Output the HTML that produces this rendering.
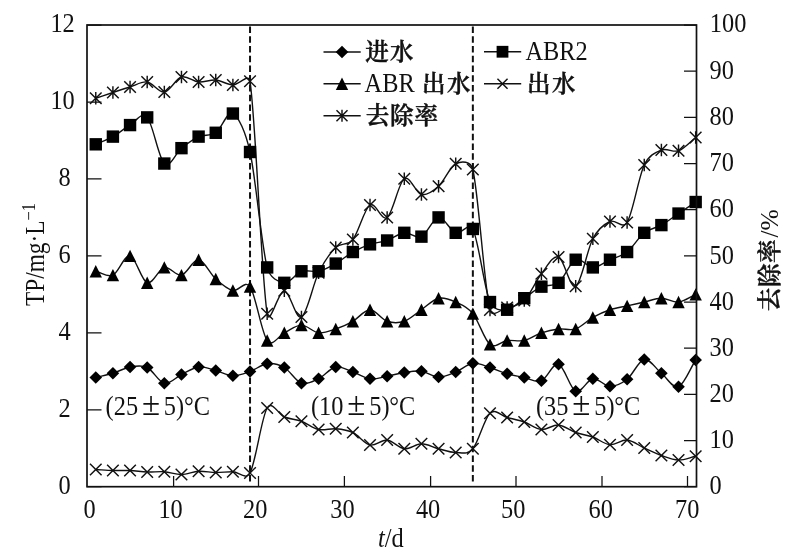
<!DOCTYPE html>
<html><head><meta charset="utf-8"><title>TP</title>
<style>html,body{margin:0;padding:0;background:#fff}svg{display:block}</style></head>
<body>
<svg width="800" height="560" viewBox="0 0 800 560">
<rect width="800" height="560" fill="#fff"/>
<path d="M173.60 486.70 V475.90 M258.50 486.70 V475.90 M344.40 486.70 V475.90 M430.60 486.70 V475.90 M516.00 486.70 V475.90 M602.00 486.70 V475.90 M687.50 486.70 V475.90 M87.00 486.70 H101.50 M87.00 409.76 H101.50 M87.00 332.82 H101.50 M87.00 255.88 H101.50 M87.00 178.94 H101.50 M87.00 102.00 H101.50 M87.00 25.06 H101.50 M696.50 486.70 H684.00 M696.50 440.53 H684.00 M696.50 394.36 H684.00 M696.50 348.19 H684.00 M696.50 302.02 H684.00 M696.50 255.85 H684.00 M696.50 209.68 H684.00 M696.50 163.51 H684.00 M696.50 117.34 H684.00 M696.50 71.17 H684.00 M696.50 25.00 H684.00" stroke="#111" stroke-width="1.25" fill="none"/>
<path d="M250.03 26.50 V483.00" stroke="#111" stroke-width="2" stroke-dasharray="6.5 3.25" fill="none"/>
<path d="M472.85 26.50 V483.00" stroke="#111" stroke-width="2" stroke-dasharray="6.5 3.25" fill="none"/>
<path d="M95.77 377.50 C101.48 376.08 107.20 375.00 112.91 373.25 C118.62 371.50 124.34 367.96 130.05 367.00 C135.76 366.04 141.48 364.79 147.19 367.50 C152.90 370.21 158.62 382.08 164.33 383.25 C170.04 384.42 175.76 377.21 181.47 374.50 C187.18 371.79 192.90 367.67 198.61 367.00 C204.32 366.33 210.04 369.04 215.75 370.50 C221.46 371.96 227.18 375.58 232.89 375.75 C238.60 375.92 244.32 373.50 250.03 371.50 C255.74 369.50 261.46 364.42 267.17 363.75 C272.88 363.08 278.60 364.25 284.31 367.50 C290.02 370.75 295.74 381.38 301.45 383.25 C307.16 385.12 312.88 381.46 318.59 378.75 C324.30 376.04 330.02 368.12 335.73 367.00 C341.44 365.88 347.16 370.04 352.87 372.00 C358.58 373.96 364.30 378.04 370.01 378.75 C375.72 379.46 381.44 377.29 387.15 376.25 C392.86 375.21 398.58 373.33 404.29 372.50 C410.00 371.67 415.72 370.50 421.43 371.25 C427.14 372.00 432.86 376.88 438.57 377.00 C444.28 377.12 450.00 374.29 455.71 372.00 C461.42 369.71 467.14 364.00 472.85 363.25 C478.56 362.50 484.28 365.75 489.99 367.50 C495.70 369.25 501.42 372.08 507.13 373.75 C512.84 375.42 518.56 376.33 524.27 377.50 C529.98 378.67 535.70 382.96 541.41 380.75 C547.12 378.54 552.84 362.50 558.55 364.25 C564.26 366.00 569.98 388.83 575.69 391.25 C581.40 393.67 587.12 379.58 592.83 378.75 C598.54 377.92 604.26 386.17 609.97 386.25 C615.68 386.33 621.40 383.71 627.11 379.25 C632.82 374.79 638.54 360.50 644.25 359.50 C649.96 358.50 655.68 368.71 661.39 373.25 C667.10 377.79 672.82 388.96 678.53 386.75 C684.24 384.54 689.96 368.92 695.67 360.00" fill="none" stroke="#111" stroke-width="1.40"/>
<path d="M95.77 371.20 L102.07 377.50 L95.77 383.80 L89.47 377.50Z" fill="#000"/><path d="M112.91 366.95 L119.21 373.25 L112.91 379.55 L106.61 373.25Z" fill="#000"/><path d="M130.05 360.70 L136.35 367.00 L130.05 373.30 L123.75 367.00Z" fill="#000"/><path d="M147.19 361.20 L153.49 367.50 L147.19 373.80 L140.89 367.50Z" fill="#000"/><path d="M164.33 376.95 L170.63 383.25 L164.33 389.55 L158.03 383.25Z" fill="#000"/><path d="M181.47 368.20 L187.77 374.50 L181.47 380.80 L175.17 374.50Z" fill="#000"/><path d="M198.61 360.70 L204.91 367.00 L198.61 373.30 L192.31 367.00Z" fill="#000"/><path d="M215.75 364.20 L222.05 370.50 L215.75 376.80 L209.45 370.50Z" fill="#000"/><path d="M232.89 369.45 L239.19 375.75 L232.89 382.05 L226.59 375.75Z" fill="#000"/><path d="M250.03 365.20 L256.33 371.50 L250.03 377.80 L243.73 371.50Z" fill="#000"/><path d="M267.17 357.45 L273.47 363.75 L267.17 370.05 L260.87 363.75Z" fill="#000"/><path d="M284.31 361.20 L290.61 367.50 L284.31 373.80 L278.01 367.50Z" fill="#000"/><path d="M301.45 376.95 L307.75 383.25 L301.45 389.55 L295.15 383.25Z" fill="#000"/><path d="M318.59 372.45 L324.89 378.75 L318.59 385.05 L312.29 378.75Z" fill="#000"/><path d="M335.73 360.70 L342.03 367.00 L335.73 373.30 L329.43 367.00Z" fill="#000"/><path d="M352.87 365.70 L359.17 372.00 L352.87 378.30 L346.57 372.00Z" fill="#000"/><path d="M370.01 372.45 L376.31 378.75 L370.01 385.05 L363.71 378.75Z" fill="#000"/><path d="M387.15 369.95 L393.45 376.25 L387.15 382.55 L380.85 376.25Z" fill="#000"/><path d="M404.29 366.20 L410.59 372.50 L404.29 378.80 L397.99 372.50Z" fill="#000"/><path d="M421.43 364.95 L427.73 371.25 L421.43 377.55 L415.13 371.25Z" fill="#000"/><path d="M438.57 370.70 L444.87 377.00 L438.57 383.30 L432.27 377.00Z" fill="#000"/><path d="M455.71 365.70 L462.01 372.00 L455.71 378.30 L449.41 372.00Z" fill="#000"/><path d="M472.85 356.95 L479.15 363.25 L472.85 369.55 L466.55 363.25Z" fill="#000"/><path d="M489.99 361.20 L496.29 367.50 L489.99 373.80 L483.69 367.50Z" fill="#000"/><path d="M507.13 367.45 L513.43 373.75 L507.13 380.05 L500.83 373.75Z" fill="#000"/><path d="M524.27 371.20 L530.57 377.50 L524.27 383.80 L517.97 377.50Z" fill="#000"/><path d="M541.41 374.45 L547.71 380.75 L541.41 387.05 L535.11 380.75Z" fill="#000"/><path d="M558.55 357.95 L564.85 364.25 L558.55 370.55 L552.25 364.25Z" fill="#000"/><path d="M575.69 384.95 L581.99 391.25 L575.69 397.55 L569.39 391.25Z" fill="#000"/><path d="M592.83 372.45 L599.13 378.75 L592.83 385.05 L586.53 378.75Z" fill="#000"/><path d="M609.97 379.95 L616.27 386.25 L609.97 392.55 L603.67 386.25Z" fill="#000"/><path d="M627.11 372.95 L633.41 379.25 L627.11 385.55 L620.81 379.25Z" fill="#000"/><path d="M644.25 353.20 L650.55 359.50 L644.25 365.80 L637.95 359.50Z" fill="#000"/><path d="M661.39 366.95 L667.69 373.25 L661.39 379.55 L655.09 373.25Z" fill="#000"/><path d="M678.53 380.45 L684.83 386.75 L678.53 393.05 L672.23 386.75Z" fill="#000"/><path d="M695.67 353.70 L701.97 360.00 L695.67 366.30 L689.37 360.00Z" fill="#000"/>
<path d="M95.77 271.27 C101.48 272.55 107.20 277.68 112.91 275.12 C118.62 272.55 124.34 254.60 130.05 255.88 C135.76 257.16 141.48 280.89 147.19 282.81 C152.90 284.73 158.62 268.70 164.33 267.42 C170.04 266.14 175.76 276.40 181.47 275.12 C187.18 273.83 192.90 259.09 198.61 259.73 C204.32 260.37 210.04 273.83 215.75 278.96 C221.46 284.09 227.18 289.22 232.89 290.50 C238.60 291.79 245.06 279.41 250.03 286.66 C255.74 294.99 261.46 332.82 267.17 340.51 C272.77 348.06 278.60 335.38 284.31 332.82 C290.02 330.26 295.74 325.13 301.45 325.13 C307.16 325.13 312.88 332.18 318.59 332.82 C324.30 333.46 330.02 330.90 335.73 328.97 C341.44 327.05 347.16 324.48 352.87 321.28 C358.58 318.07 364.30 309.74 370.01 309.74 C375.72 309.74 381.44 319.36 387.15 321.28 C392.86 323.20 398.58 323.20 404.29 321.28 C410.00 319.36 415.72 313.58 421.43 309.74 C427.14 305.89 432.86 299.48 438.57 298.20 C444.28 296.91 450.00 299.48 455.71 302.04 C461.42 304.61 467.14 306.53 472.85 313.58 C478.56 320.64 484.28 339.87 489.99 344.36 C495.70 348.85 501.42 341.16 507.13 340.51 C512.84 339.87 518.56 341.80 524.27 340.51 C529.98 339.23 535.70 334.74 541.41 332.82 C547.12 330.90 552.84 329.61 558.55 328.97 C564.26 328.33 569.98 330.90 575.69 328.97 C581.40 327.05 587.12 320.64 592.83 317.43 C598.54 314.23 604.26 311.66 609.97 309.74 C615.68 307.81 621.40 307.17 627.11 305.89 C632.82 304.61 638.54 303.33 644.25 302.04 C649.96 300.76 655.68 298.20 661.39 298.20 C667.10 298.20 672.82 302.69 678.53 302.04 C684.24 301.40 689.96 296.91 695.67 294.35" fill="none" stroke="#111" stroke-width="1.40"/>
<path d="M95.77 265.07 L101.97 277.47 L89.57 277.47Z" fill="#000"/><path d="M112.91 268.92 L119.11 281.31 L106.71 281.31Z" fill="#000"/><path d="M130.05 249.68 L136.25 262.08 L123.85 262.08Z" fill="#000"/><path d="M147.19 276.61 L153.39 289.01 L140.99 289.01Z" fill="#000"/><path d="M164.33 261.22 L170.53 273.62 L158.13 273.62Z" fill="#000"/><path d="M181.47 268.92 L187.67 281.31 L175.27 281.31Z" fill="#000"/><path d="M198.61 253.53 L204.81 265.93 L192.41 265.93Z" fill="#000"/><path d="M215.75 272.76 L221.95 285.16 L209.55 285.16Z" fill="#000"/><path d="M232.89 284.30 L239.09 296.70 L226.69 296.70Z" fill="#000"/><path d="M250.03 280.46 L256.23 292.86 L243.83 292.86Z" fill="#000"/><path d="M267.17 334.31 L273.37 346.71 L260.97 346.71Z" fill="#000"/><path d="M284.31 326.62 L290.51 339.02 L278.11 339.02Z" fill="#000"/><path d="M301.45 318.93 L307.65 331.33 L295.25 331.33Z" fill="#000"/><path d="M318.59 326.62 L324.79 339.02 L312.39 339.02Z" fill="#000"/><path d="M335.73 322.77 L341.93 335.17 L329.53 335.17Z" fill="#000"/><path d="M352.87 315.08 L359.07 327.48 L346.67 327.48Z" fill="#000"/><path d="M370.01 303.54 L376.21 315.94 L363.81 315.94Z" fill="#000"/><path d="M387.15 315.08 L393.35 327.48 L380.95 327.48Z" fill="#000"/><path d="M404.29 315.08 L410.49 327.48 L398.09 327.48Z" fill="#000"/><path d="M421.43 303.54 L427.63 315.94 L415.23 315.94Z" fill="#000"/><path d="M438.57 292.00 L444.77 304.40 L432.37 304.40Z" fill="#000"/><path d="M455.71 295.84 L461.91 308.24 L449.51 308.24Z" fill="#000"/><path d="M472.85 307.38 L479.05 319.78 L466.65 319.78Z" fill="#000"/><path d="M489.99 338.16 L496.19 350.56 L483.79 350.56Z" fill="#000"/><path d="M507.13 334.31 L513.33 346.71 L500.93 346.71Z" fill="#000"/><path d="M524.27 334.31 L530.47 346.71 L518.07 346.71Z" fill="#000"/><path d="M541.41 326.62 L547.61 339.02 L535.21 339.02Z" fill="#000"/><path d="M558.55 322.77 L564.75 335.17 L552.35 335.17Z" fill="#000"/><path d="M575.69 322.77 L581.89 335.17 L569.49 335.17Z" fill="#000"/><path d="M592.83 311.23 L599.03 323.63 L586.63 323.63Z" fill="#000"/><path d="M609.97 303.54 L616.17 315.94 L603.77 315.94Z" fill="#000"/><path d="M627.11 299.69 L633.31 312.09 L620.91 312.09Z" fill="#000"/><path d="M644.25 295.84 L650.45 308.24 L638.05 308.24Z" fill="#000"/><path d="M661.39 292.00 L667.59 304.40 L655.19 304.40Z" fill="#000"/><path d="M678.53 295.84 L684.73 308.24 L672.33 308.24Z" fill="#000"/><path d="M695.67 288.15 L701.87 300.55 L689.47 300.55Z" fill="#000"/>
<path d="M95.77 469.50 C101.48 469.83 107.20 470.33 112.91 470.50 C118.62 470.67 124.34 470.25 130.05 470.50 C135.76 470.75 141.48 471.79 147.19 472.00 C152.90 472.21 158.62 471.33 164.33 471.75 C170.04 472.17 175.76 474.58 181.47 474.50 C187.18 474.42 192.90 471.58 198.61 471.25 C204.32 470.92 210.04 472.42 215.75 472.50 C221.46 472.58 227.18 471.67 232.89 471.75 C238.60 471.83 245.96 480.57 250.03 473.00 C255.74 462.38 261.46 417.33 267.17 408.00 C272.22 399.74 278.60 414.79 284.31 417.00 C290.02 419.21 295.74 419.17 301.45 421.25 C307.16 423.33 312.88 428.25 318.59 429.50 C324.30 430.75 330.02 428.25 335.73 428.75 C341.44 429.25 347.16 429.79 352.87 432.50 C358.58 435.21 364.30 443.75 370.01 445.00 C375.72 446.25 381.44 439.38 387.15 440.00 C392.86 440.62 398.58 448.12 404.29 448.75 C410.00 449.38 415.72 443.75 421.43 443.75 C427.14 443.75 432.86 447.29 438.57 448.75 C444.28 450.21 450.00 452.50 455.71 452.50 C461.42 452.50 467.14 455.29 472.85 448.75 C478.56 442.21 484.28 418.46 489.99 413.25 C495.70 408.04 501.42 416.04 507.13 417.50 C512.84 418.96 518.56 420.00 524.27 422.00 C529.98 424.00 535.70 429.00 541.41 429.50 C547.12 430.00 552.84 424.50 558.55 425.00 C564.26 425.50 569.98 430.50 575.69 432.50 C581.40 434.50 587.12 434.96 592.83 437.00 C598.54 439.04 604.26 444.25 609.97 444.75 C615.68 445.25 621.40 439.46 627.11 440.00 C632.82 440.54 638.54 445.42 644.25 448.00 C649.96 450.58 655.68 453.50 661.39 455.50 C667.10 457.50 672.82 459.88 678.53 460.00 C684.24 460.12 689.96 457.50 695.67 456.25" fill="none" stroke="#111" stroke-width="1.40"/>
<path d="M89.97 463.70 L101.57 475.30 M89.97 475.30 L101.57 463.70" stroke="#111" stroke-width="1.45" fill="none"/><path d="M107.11 464.70 L118.71 476.30 M107.11 476.30 L118.71 464.70" stroke="#111" stroke-width="1.45" fill="none"/><path d="M124.25 464.70 L135.85 476.30 M124.25 476.30 L135.85 464.70" stroke="#111" stroke-width="1.45" fill="none"/><path d="M141.39 466.20 L152.99 477.80 M141.39 477.80 L152.99 466.20" stroke="#111" stroke-width="1.45" fill="none"/><path d="M158.53 465.95 L170.13 477.55 M158.53 477.55 L170.13 465.95" stroke="#111" stroke-width="1.45" fill="none"/><path d="M175.67 468.70 L187.27 480.30 M175.67 480.30 L187.27 468.70" stroke="#111" stroke-width="1.45" fill="none"/><path d="M192.81 465.45 L204.41 477.05 M192.81 477.05 L204.41 465.45" stroke="#111" stroke-width="1.45" fill="none"/><path d="M209.95 466.70 L221.55 478.30 M209.95 478.30 L221.55 466.70" stroke="#111" stroke-width="1.45" fill="none"/><path d="M227.09 465.95 L238.69 477.55 M227.09 477.55 L238.69 465.95" stroke="#111" stroke-width="1.45" fill="none"/><path d="M244.23 467.20 L255.83 478.80 M244.23 478.80 L255.83 467.20" stroke="#111" stroke-width="1.45" fill="none"/><path d="M261.37 402.20 L272.97 413.80 M261.37 413.80 L272.97 402.20" stroke="#111" stroke-width="1.45" fill="none"/><path d="M278.51 411.20 L290.11 422.80 M278.51 422.80 L290.11 411.20" stroke="#111" stroke-width="1.45" fill="none"/><path d="M295.65 415.45 L307.25 427.05 M295.65 427.05 L307.25 415.45" stroke="#111" stroke-width="1.45" fill="none"/><path d="M312.79 423.70 L324.39 435.30 M312.79 435.30 L324.39 423.70" stroke="#111" stroke-width="1.45" fill="none"/><path d="M329.93 422.95 L341.53 434.55 M329.93 434.55 L341.53 422.95" stroke="#111" stroke-width="1.45" fill="none"/><path d="M347.07 426.70 L358.67 438.30 M347.07 438.30 L358.67 426.70" stroke="#111" stroke-width="1.45" fill="none"/><path d="M364.21 439.20 L375.81 450.80 M364.21 450.80 L375.81 439.20" stroke="#111" stroke-width="1.45" fill="none"/><path d="M381.35 434.20 L392.95 445.80 M381.35 445.80 L392.95 434.20" stroke="#111" stroke-width="1.45" fill="none"/><path d="M398.49 442.95 L410.09 454.55 M398.49 454.55 L410.09 442.95" stroke="#111" stroke-width="1.45" fill="none"/><path d="M415.63 437.95 L427.23 449.55 M415.63 449.55 L427.23 437.95" stroke="#111" stroke-width="1.45" fill="none"/><path d="M432.77 442.95 L444.37 454.55 M432.77 454.55 L444.37 442.95" stroke="#111" stroke-width="1.45" fill="none"/><path d="M449.91 446.70 L461.51 458.30 M449.91 458.30 L461.51 446.70" stroke="#111" stroke-width="1.45" fill="none"/><path d="M467.05 442.95 L478.65 454.55 M467.05 454.55 L478.65 442.95" stroke="#111" stroke-width="1.45" fill="none"/><path d="M484.19 407.45 L495.79 419.05 M484.19 419.05 L495.79 407.45" stroke="#111" stroke-width="1.45" fill="none"/><path d="M501.33 411.70 L512.93 423.30 M501.33 423.30 L512.93 411.70" stroke="#111" stroke-width="1.45" fill="none"/><path d="M518.47 416.20 L530.07 427.80 M518.47 427.80 L530.07 416.20" stroke="#111" stroke-width="1.45" fill="none"/><path d="M535.61 423.70 L547.21 435.30 M535.61 435.30 L547.21 423.70" stroke="#111" stroke-width="1.45" fill="none"/><path d="M552.75 419.20 L564.35 430.80 M552.75 430.80 L564.35 419.20" stroke="#111" stroke-width="1.45" fill="none"/><path d="M569.89 426.70 L581.49 438.30 M569.89 438.30 L581.49 426.70" stroke="#111" stroke-width="1.45" fill="none"/><path d="M587.03 431.20 L598.63 442.80 M587.03 442.80 L598.63 431.20" stroke="#111" stroke-width="1.45" fill="none"/><path d="M604.17 438.95 L615.77 450.55 M604.17 450.55 L615.77 438.95" stroke="#111" stroke-width="1.45" fill="none"/><path d="M621.31 434.20 L632.91 445.80 M621.31 445.80 L632.91 434.20" stroke="#111" stroke-width="1.45" fill="none"/><path d="M638.45 442.20 L650.05 453.80 M638.45 453.80 L650.05 442.20" stroke="#111" stroke-width="1.45" fill="none"/><path d="M655.59 449.70 L667.19 461.30 M655.59 461.30 L667.19 449.70" stroke="#111" stroke-width="1.45" fill="none"/><path d="M672.73 454.20 L684.33 465.80 M672.73 465.80 L684.33 454.20" stroke="#111" stroke-width="1.45" fill="none"/><path d="M689.87 450.45 L701.47 462.05 M689.87 462.05 L701.47 450.45" stroke="#111" stroke-width="1.45" fill="none"/>
<path d="M95.77 98.25 C101.48 96.33 107.20 94.38 112.91 92.50 C118.62 90.62 124.34 88.75 130.05 87.00 C135.76 85.25 141.48 81.17 147.19 82.00 C152.90 82.83 158.62 92.83 164.33 92.00 C170.04 91.17 175.76 78.67 181.47 77.00 C187.18 75.33 192.90 81.50 198.61 82.00 C204.32 82.50 210.04 79.50 215.75 80.00 C221.46 80.50 227.18 84.79 232.89 85.00 C238.60 85.21 248.73 72.57 250.03 81.25 C255.74 119.38 261.46 278.83 267.17 313.75 C269.49 327.90 278.60 290.21 284.31 290.75 C290.02 291.29 295.74 319.99 301.45 317.00 C307.16 314.01 312.88 284.38 318.59 272.80 C324.30 261.22 330.02 253.05 335.73 247.50 C341.44 241.95 347.16 246.58 352.87 239.50 C358.58 232.42 364.30 208.67 370.01 205.00 C375.72 201.33 381.44 221.88 387.15 217.50 C392.86 213.12 398.58 182.58 404.29 178.75 C410.00 174.92 415.72 193.25 421.43 194.50 C427.14 195.75 432.86 191.38 438.57 186.25 C444.28 181.12 450.00 166.54 455.71 163.75 C461.42 160.96 470.79 160.70 472.85 169.50 C478.56 193.88 484.28 287.00 489.99 310.00 C492.08 318.41 501.42 309.08 507.13 307.50 C512.84 305.92 518.56 306.12 524.27 300.50 C529.98 294.88 535.70 281.00 541.41 273.75 C547.12 266.50 552.84 254.92 558.55 257.00 C564.26 259.08 569.98 289.29 575.69 286.25 C581.40 283.21 587.12 249.54 592.83 238.75 C598.52 228.00 604.26 224.21 609.97 221.50 C615.68 218.79 622.66 229.84 627.11 222.50 C632.82 213.08 638.54 177.08 644.25 165.00 C649.12 154.70 655.68 152.38 661.39 150.00 C667.10 147.62 672.82 152.83 678.53 150.75 C684.24 148.67 689.96 141.92 695.67 137.50" fill="none" stroke="#111" stroke-width="1.40"/>
<path d="M89.97 92.45 L101.57 104.05 M89.97 104.05 L101.57 92.45 M95.77 92.05 L95.77 104.45" stroke="#111" stroke-width="1.45" fill="none"/><path d="M107.11 86.70 L118.71 98.30 M107.11 98.30 L118.71 86.70 M112.91 86.30 L112.91 98.70" stroke="#111" stroke-width="1.45" fill="none"/><path d="M124.25 81.20 L135.85 92.80 M124.25 92.80 L135.85 81.20 M130.05 80.80 L130.05 93.20" stroke="#111" stroke-width="1.45" fill="none"/><path d="M141.39 76.20 L152.99 87.80 M141.39 87.80 L152.99 76.20 M147.19 75.80 L147.19 88.20" stroke="#111" stroke-width="1.45" fill="none"/><path d="M158.53 86.20 L170.13 97.80 M158.53 97.80 L170.13 86.20 M164.33 85.80 L164.33 98.20" stroke="#111" stroke-width="1.45" fill="none"/><path d="M175.67 71.20 L187.27 82.80 M175.67 82.80 L187.27 71.20 M181.47 70.80 L181.47 83.20" stroke="#111" stroke-width="1.45" fill="none"/><path d="M192.81 76.20 L204.41 87.80 M192.81 87.80 L204.41 76.20 M198.61 75.80 L198.61 88.20" stroke="#111" stroke-width="1.45" fill="none"/><path d="M209.95 74.20 L221.55 85.80 M209.95 85.80 L221.55 74.20 M215.75 73.80 L215.75 86.20" stroke="#111" stroke-width="1.45" fill="none"/><path d="M227.09 79.20 L238.69 90.80 M227.09 90.80 L238.69 79.20 M232.89 78.80 L232.89 91.20" stroke="#111" stroke-width="1.45" fill="none"/><path d="M244.23 75.45 L255.83 87.05 M244.23 87.05 L255.83 75.45 M250.03 75.05 L250.03 87.45" stroke="#111" stroke-width="1.45" fill="none"/><path d="M261.37 307.95 L272.97 319.55 M261.37 319.55 L272.97 307.95 M267.17 307.55 L267.17 319.95" stroke="#111" stroke-width="1.45" fill="none"/><path d="M278.51 284.95 L290.11 296.55 M278.51 296.55 L290.11 284.95 M284.31 284.55 L284.31 296.95" stroke="#111" stroke-width="1.45" fill="none"/><path d="M295.65 311.20 L307.25 322.80 M295.65 322.80 L307.25 311.20 M301.45 310.80 L301.45 323.20" stroke="#111" stroke-width="1.45" fill="none"/><path d="M312.79 267.00 L324.39 278.60 M312.79 278.60 L324.39 267.00 M318.59 266.60 L318.59 279.00" stroke="#111" stroke-width="1.45" fill="none"/><path d="M329.93 241.70 L341.53 253.30 M329.93 253.30 L341.53 241.70 M335.73 241.30 L335.73 253.70" stroke="#111" stroke-width="1.45" fill="none"/><path d="M347.07 233.70 L358.67 245.30 M347.07 245.30 L358.67 233.70 M352.87 233.30 L352.87 245.70" stroke="#111" stroke-width="1.45" fill="none"/><path d="M364.21 199.20 L375.81 210.80 M364.21 210.80 L375.81 199.20 M370.01 198.80 L370.01 211.20" stroke="#111" stroke-width="1.45" fill="none"/><path d="M381.35 211.70 L392.95 223.30 M381.35 223.30 L392.95 211.70 M387.15 211.30 L387.15 223.70" stroke="#111" stroke-width="1.45" fill="none"/><path d="M398.49 172.95 L410.09 184.55 M398.49 184.55 L410.09 172.95 M404.29 172.55 L404.29 184.95" stroke="#111" stroke-width="1.45" fill="none"/><path d="M415.63 188.70 L427.23 200.30 M415.63 200.30 L427.23 188.70 M421.43 188.30 L421.43 200.70" stroke="#111" stroke-width="1.45" fill="none"/><path d="M432.77 180.45 L444.37 192.05 M432.77 192.05 L444.37 180.45 M438.57 180.05 L438.57 192.45" stroke="#111" stroke-width="1.45" fill="none"/><path d="M449.91 157.95 L461.51 169.55 M449.91 169.55 L461.51 157.95 M455.71 157.55 L455.71 169.95" stroke="#111" stroke-width="1.45" fill="none"/><path d="M467.05 163.70 L478.65 175.30 M467.05 175.30 L478.65 163.70 M472.85 163.30 L472.85 175.70" stroke="#111" stroke-width="1.45" fill="none"/><path d="M484.19 304.20 L495.79 315.80 M484.19 315.80 L495.79 304.20 M489.99 303.80 L489.99 316.20" stroke="#111" stroke-width="1.45" fill="none"/><path d="M501.33 301.70 L512.93 313.30 M501.33 313.30 L512.93 301.70 M507.13 301.30 L507.13 313.70" stroke="#111" stroke-width="1.45" fill="none"/><path d="M518.47 294.70 L530.07 306.30 M518.47 306.30 L530.07 294.70 M524.27 294.30 L524.27 306.70" stroke="#111" stroke-width="1.45" fill="none"/><path d="M535.61 267.95 L547.21 279.55 M535.61 279.55 L547.21 267.95 M541.41 267.55 L541.41 279.95" stroke="#111" stroke-width="1.45" fill="none"/><path d="M552.75 251.20 L564.35 262.80 M552.75 262.80 L564.35 251.20 M558.55 250.80 L558.55 263.20" stroke="#111" stroke-width="1.45" fill="none"/><path d="M569.89 280.45 L581.49 292.05 M569.89 292.05 L581.49 280.45 M575.69 280.05 L575.69 292.45" stroke="#111" stroke-width="1.45" fill="none"/><path d="M587.03 232.95 L598.63 244.55 M587.03 244.55 L598.63 232.95 M592.83 232.55 L592.83 244.95" stroke="#111" stroke-width="1.45" fill="none"/><path d="M604.17 215.70 L615.77 227.30 M604.17 227.30 L615.77 215.70 M609.97 215.30 L609.97 227.70" stroke="#111" stroke-width="1.45" fill="none"/><path d="M621.31 216.70 L632.91 228.30 M621.31 228.30 L632.91 216.70 M627.11 216.30 L627.11 228.70" stroke="#111" stroke-width="1.45" fill="none"/><path d="M638.45 159.20 L650.05 170.80 M638.45 170.80 L650.05 159.20 M644.25 158.80 L644.25 171.20" stroke="#111" stroke-width="1.45" fill="none"/><path d="M655.59 144.20 L667.19 155.80 M655.59 155.80 L667.19 144.20 M661.39 143.80 L661.39 156.20" stroke="#111" stroke-width="1.45" fill="none"/><path d="M672.73 144.95 L684.33 156.55 M672.73 156.55 L684.33 144.95 M678.53 144.55 L678.53 156.95" stroke="#111" stroke-width="1.45" fill="none"/><path d="M689.87 131.70 L701.47 143.30 M689.87 143.30 L701.47 131.70 M695.67 131.30 L695.67 143.70" stroke="#111" stroke-width="1.45" fill="none"/>
<path d="M95.77 144.32 C101.48 141.75 107.20 139.83 112.91 136.62 C118.62 133.42 124.34 128.29 130.05 125.08 C135.76 121.88 141.48 110.98 147.19 117.39 C152.90 123.80 158.62 158.42 164.33 163.55 C170.04 168.68 175.76 152.65 181.47 148.16 C187.18 143.68 192.90 139.19 198.61 136.62 C204.32 134.06 210.04 136.62 215.75 132.78 C221.46 128.93 227.18 110.34 232.89 113.54 C238.60 116.75 245.45 131.46 250.03 152.01 C255.74 177.66 261.46 245.62 267.17 267.42 C270.09 278.56 278.60 282.17 284.31 282.81 C290.02 283.45 295.74 273.19 301.45 271.27 C307.16 269.34 312.88 272.55 318.59 271.27 C324.30 269.99 330.02 266.78 335.73 263.57 C341.44 260.37 347.16 255.24 352.87 252.03 C358.58 248.83 364.30 246.26 370.01 244.34 C375.72 242.42 381.44 242.42 387.15 240.49 C392.86 238.57 398.58 233.44 404.29 232.80 C410.00 232.16 415.72 239.21 421.43 236.64 C427.14 234.08 432.86 218.05 438.57 217.41 C444.28 216.77 450.00 230.87 455.71 232.80 C461.42 234.72 468.95 221.08 472.85 228.95 C478.56 240.49 484.28 288.58 489.99 302.04 C493.66 310.69 501.42 310.38 507.13 309.74 C512.84 309.10 518.56 302.04 524.27 298.20 C529.98 294.35 535.70 289.22 541.41 286.66 C547.12 284.09 552.84 287.30 558.55 282.81 C564.26 278.32 569.98 262.29 575.69 259.73 C581.40 257.16 587.12 267.42 592.83 267.42 C598.54 267.42 604.26 262.29 609.97 259.73 C615.68 257.16 621.40 256.52 627.11 252.03 C632.82 247.54 638.54 237.29 644.25 232.80 C649.96 228.31 655.68 228.31 661.39 225.10 C667.10 221.90 672.82 217.41 678.53 213.56 C684.24 209.72 689.96 205.87 695.67 202.02" fill="none" stroke="#111" stroke-width="1.40"/>
<rect x="89.57" y="138.12" width="12.40" height="12.40" fill="#000"/><rect x="106.71" y="130.42" width="12.40" height="12.40" fill="#000"/><rect x="123.85" y="118.88" width="12.40" height="12.40" fill="#000"/><rect x="140.99" y="111.19" width="12.40" height="12.40" fill="#000"/><rect x="158.13" y="157.35" width="12.40" height="12.40" fill="#000"/><rect x="175.27" y="141.96" width="12.40" height="12.40" fill="#000"/><rect x="192.41" y="130.42" width="12.40" height="12.40" fill="#000"/><rect x="209.55" y="126.58" width="12.40" height="12.40" fill="#000"/><rect x="226.69" y="107.34" width="12.40" height="12.40" fill="#000"/><rect x="243.83" y="145.81" width="12.40" height="12.40" fill="#000"/><rect x="260.97" y="261.22" width="12.40" height="12.40" fill="#000"/><rect x="278.11" y="276.61" width="12.40" height="12.40" fill="#000"/><rect x="295.25" y="265.07" width="12.40" height="12.40" fill="#000"/><rect x="312.39" y="265.07" width="12.40" height="12.40" fill="#000"/><rect x="329.53" y="257.37" width="12.40" height="12.40" fill="#000"/><rect x="346.67" y="245.83" width="12.40" height="12.40" fill="#000"/><rect x="363.81" y="238.14" width="12.40" height="12.40" fill="#000"/><rect x="380.95" y="234.29" width="12.40" height="12.40" fill="#000"/><rect x="398.09" y="226.60" width="12.40" height="12.40" fill="#000"/><rect x="415.23" y="230.44" width="12.40" height="12.40" fill="#000"/><rect x="432.37" y="211.21" width="12.40" height="12.40" fill="#000"/><rect x="449.51" y="226.60" width="12.40" height="12.40" fill="#000"/><rect x="466.65" y="222.75" width="12.40" height="12.40" fill="#000"/><rect x="483.79" y="295.84" width="12.40" height="12.40" fill="#000"/><rect x="500.93" y="303.54" width="12.40" height="12.40" fill="#000"/><rect x="518.07" y="292.00" width="12.40" height="12.40" fill="#000"/><rect x="535.21" y="280.46" width="12.40" height="12.40" fill="#000"/><rect x="552.35" y="276.61" width="12.40" height="12.40" fill="#000"/><rect x="569.49" y="253.53" width="12.40" height="12.40" fill="#000"/><rect x="586.63" y="261.22" width="12.40" height="12.40" fill="#000"/><rect x="603.77" y="253.53" width="12.40" height="12.40" fill="#000"/><rect x="620.91" y="245.83" width="12.40" height="12.40" fill="#000"/><rect x="638.05" y="226.60" width="12.40" height="12.40" fill="#000"/><rect x="655.19" y="218.90" width="12.40" height="12.40" fill="#000"/><rect x="672.33" y="207.36" width="12.40" height="12.40" fill="#000"/><rect x="689.47" y="195.82" width="12.40" height="12.40" fill="#000"/>
<rect x="87.00" y="25.00" width="609.50" height="461.70" fill="none" stroke="#111" stroke-width="1.7"/>
<g font-family="'Liberation Serif', 'Noto Serif CJK SC', serif" fill="#111">
<text transform="translate(89.50 517.80) scale(0.920 1)" font-size="26.5" text-anchor="middle">0</text>
<text transform="translate(170.60 517.80) scale(0.920 1)" font-size="26.5" text-anchor="middle">10</text>
<text transform="translate(255.20 517.80) scale(0.920 1)" font-size="26.5" text-anchor="middle">20</text>
<text transform="translate(342.50 517.80) scale(0.920 1)" font-size="26.5" text-anchor="middle">30</text>
<text transform="translate(428.10 517.80) scale(0.920 1)" font-size="26.5" text-anchor="middle">40</text>
<text transform="translate(513.20 517.80) scale(0.920 1)" font-size="26.5" text-anchor="middle">50</text>
<text transform="translate(600.70 517.80) scale(0.920 1)" font-size="26.5" text-anchor="middle">60</text>
<text transform="translate(687.20 517.80) scale(0.920 1)" font-size="26.5" text-anchor="middle">70</text>
<text transform="translate(64.60 493.70) scale(0.920 1)" font-size="26.5" text-anchor="middle">0</text>
<text transform="translate(64.60 416.76) scale(0.920 1)" font-size="26.5" text-anchor="middle">2</text>
<text transform="translate(64.60 339.82) scale(0.920 1)" font-size="26.5" text-anchor="middle">4</text>
<text transform="translate(64.60 262.88) scale(0.920 1)" font-size="26.5" text-anchor="middle">6</text>
<text transform="translate(64.60 185.94) scale(0.920 1)" font-size="26.5" text-anchor="middle">8</text>
<text transform="translate(62.60 109.00) scale(0.920 1)" font-size="26.5" text-anchor="middle">10</text>
<text transform="translate(62.60 32.06) scale(0.920 1)" font-size="26.5" text-anchor="middle">12</text>
<text transform="translate(709.50 494.40) scale(0.920 1)" font-size="26.5" text-anchor="start">0</text>
<text transform="translate(709.50 448.23) scale(0.920 1)" font-size="26.5" text-anchor="start">10</text>
<text transform="translate(709.50 402.06) scale(0.920 1)" font-size="26.5" text-anchor="start">20</text>
<text transform="translate(709.50 355.89) scale(0.920 1)" font-size="26.5" text-anchor="start">30</text>
<text transform="translate(709.50 309.72) scale(0.920 1)" font-size="26.5" text-anchor="start">40</text>
<text transform="translate(709.50 263.55) scale(0.920 1)" font-size="26.5" text-anchor="start">50</text>
<text transform="translate(709.50 217.38) scale(0.920 1)" font-size="26.5" text-anchor="start">60</text>
<text transform="translate(709.50 171.21) scale(0.920 1)" font-size="26.5" text-anchor="start">70</text>
<text transform="translate(709.50 125.04) scale(0.920 1)" font-size="26.5" text-anchor="start">80</text>
<text transform="translate(709.50 78.87) scale(0.920 1)" font-size="26.5" text-anchor="start">90</text>
<text transform="translate(709.80 32.00) scale(0.920 1)" font-size="26.5" text-anchor="start">100</text>
<text transform="translate(403.80 547.20) scale(0.920 1)" font-size="26.5" text-anchor="end"><tspan font-style="italic">t</tspan>/d</text>
<text transform="translate(44.00 306.00) rotate(-90) scale(0.880 1)" font-size="26.5" text-anchor="start">TP/mg·L<tspan font-size="18.5" dy="-9.5">−1</tspan></text>
<text transform="translate(778.3 311.3) rotate(-90)" font-size="23.5" letter-spacing="0.7" font-weight="600" stroke="#111" stroke-width="0.45">去除率</text>
<text transform="translate(778.30 237.60) rotate(-90) scale(0.980 1)" font-size="26.0" text-anchor="start">/%</text>
<text transform="translate(105.60 415.00) scale(0.920 1)" font-size="26.5" text-anchor="start">(25</text><text transform="translate(151.00 415.00) scale(1.000 1)" font-size="33.0" text-anchor="middle">±</text><text transform="translate(163.80 415.00) scale(0.920 1)" font-size="26.5" text-anchor="start">5)</text><text transform="translate(183.90 415.00) scale(0.920 1)" font-size="26.5" text-anchor="start">°C</text>
<text transform="translate(311.00 415.00) scale(0.920 1)" font-size="26.5" text-anchor="start">(10</text><text transform="translate(356.40 415.00) scale(1.000 1)" font-size="33.0" text-anchor="middle">±</text><text transform="translate(369.20 415.00) scale(0.920 1)" font-size="26.5" text-anchor="start">5)</text><text transform="translate(389.30 415.00) scale(0.920 1)" font-size="26.5" text-anchor="start">°C</text>
<text transform="translate(536.00 415.00) scale(0.920 1)" font-size="26.5" text-anchor="start">(35</text><text transform="translate(581.40 415.00) scale(1.000 1)" font-size="33.0" text-anchor="middle">±</text><text transform="translate(594.20 415.00) scale(0.920 1)" font-size="26.5" text-anchor="start">5)</text><text transform="translate(614.30 415.00) scale(0.920 1)" font-size="26.5" text-anchor="start">°C</text>
<path d="M323.50 52.00 H360.70" stroke="#111" stroke-width="1.3"/><path d="M342.00 45.70 L348.30 52.00 L342.00 58.30 L335.70 52.00Z" fill="#000"/><text x="365.30" y="60.00" font-size="23.5" letter-spacing="1.30" font-weight="600" stroke="#111" stroke-width="0.45">进水</text>
<path d="M323.50 83.75 H360.70" stroke="#111" stroke-width="1.3"/><path d="M342.00 77.55 L348.20 89.95 L335.80 89.95Z" fill="#000"/><text transform="translate(364.60 91.75) scale(0.920 1)" font-size="26.5" text-anchor="start">ABR</text><text x="422.00" y="91.75" font-size="23.5" letter-spacing="1.60" font-weight="600" stroke="#111" stroke-width="0.45">出水</text>
<path d="M323.50 115.75 H360.70" stroke="#111" stroke-width="1.3"/><path d="M336.49 110.24 L347.51 121.26 M336.49 121.26 L347.51 110.24 M342.00 109.84 L342.00 121.66" stroke="#111" stroke-width="1.45" fill="none"/><text x="365.80" y="123.75" font-size="23.5" letter-spacing="0.80" font-weight="600" stroke="#111" stroke-width="0.45">去除率</text>
<path d="M484.00 51.75 H521.20" stroke="#111" stroke-width="1.3"/><rect x="496.61" y="45.86" width="11.78" height="11.78" fill="#000"/><text transform="translate(525.40 59.75) scale(0.920 1)" font-size="26.5" text-anchor="start">ABR2</text>
<path d="M484.00 83.75 H521.20" stroke="#111" stroke-width="1.3"/><path d="M497.45 78.70 L507.55 88.80 M497.45 88.80 L507.55 78.70" stroke="#111" stroke-width="1.45" fill="none"/><text x="527.00" y="91.75" font-size="23.5" letter-spacing="1.60" font-weight="600" stroke="#111" stroke-width="0.45">出水</text>
</g>
</svg>
</body></html>
